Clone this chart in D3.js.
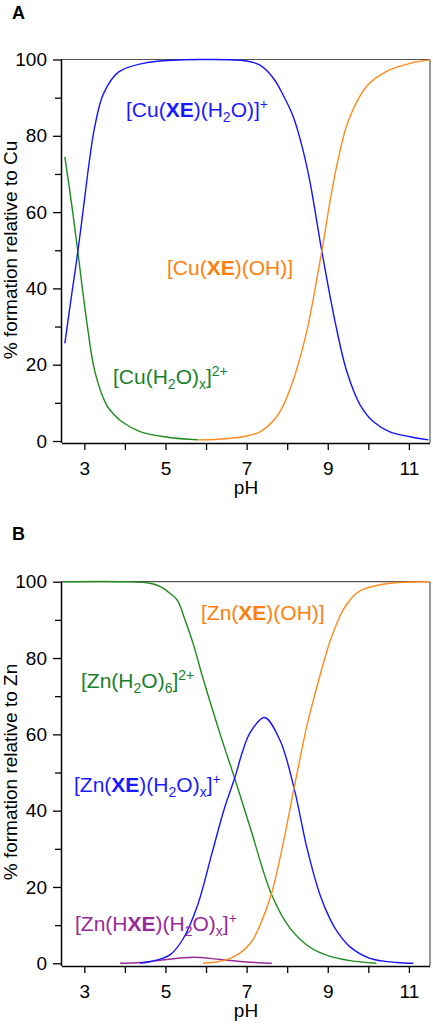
<!DOCTYPE html>
<html><head><meta charset="utf-8">
<script src="https://cdn.jsdelivr.net/npm/d3@7"></script>
<style>body{margin:0;background:#fff}svg{display:block;font-family:Arial,"Liberation Sans",sans-serif}</style>
</head><body><svg id="c" width="433" height="1024"></svg>
<script>
// ---- Data ----
const xTicks = [3,4,5,6,7,8,9,10,11];
const yTicks = [0,10,20,30,40,50,60,70,80,90,100];

// Panel A: Cu
const cuAqPH  = [2.52,2.69,2.84,3.06,3.26,3.55,3.66,3.92,4.39,5.05,5.81];
const cuAqVal = [74.5,61.9,49.6,31.3,18.2,9.4,7.8,5.1,2.4,1.0,0.3];
const cuXePH  = [2.52,2.71,2.84,3.03,3.12,3.25,3.47,3.84,4.45,5.15,6.0,7.0,7.33,7.66,7.90,8.15,8.36,8.56,8.85,9.18,9.47,9.80,10.12,10.53,11.03,11.48];
const cuXeVal = [25.6,40.0,49.6,65.5,73.0,82.0,91.0,96.7,99.0,99.8,100,99.6,98.5,95.1,90.7,85.0,77.5,68.0,50.0,31.3,18.2,9.4,5.1,2.4,1.1,0.3];
const cuOhPH  = [5.81,6.5,7.0,7.33,7.66,7.90,8.15,8.36,8.52,8.85,9.10,9.26,9.51,9.96,10.45,11.03,11.52];
const cuOhVal = [0.3,0.6,1.3,2.4,5.3,9.2,16.0,23.5,30.5,49.6,65.5,74.0,84.0,93.0,96.9,99.0,99.9];

// Panel B: Zn
const znAqPH  = [2.48,4.0,4.62,4.90,5.07,5.30,5.48,5.69,5.93,6.35,6.72,7.09,7.62,8.07,8.56,9.06,9.55,10.2];
const znAqVal = [100,100,99.6,98.6,97.3,95.0,90.0,83.5,74.5,60.0,48.0,35.5,17.9,9.2,4.2,1.8,0.7,0.0];
const znXePH  = [4.37,4.62,5.11,5.44,5.80,6.15,6.45,6.72,6.90,7.09,7.44,7.82,8.17,8.49,8.81,9.06,9.22,9.55,10.04,10.7,11.11];
const znXeVal = [0.0,0.4,2.2,6.5,15.5,29.0,40.5,49.0,55.5,60.5,64.4,58.5,45.9,30.1,17.9,11.5,8.5,4.3,1.3,0.2,0.0];
const znOhPH  = [5.93,6.6,7.09,7.35,7.62,7.91,8.17,8.49,8.81,9.06,9.22,9.38,9.55,9.70,9.87,10.53,11.52];
const znOhVal = [0.0,1.3,5.2,10.5,18.5,31.9,45.9,62.4,75.5,84.5,89.0,92.6,95.2,96.9,98.0,99.6,100];
const znHxePH  = [3.88,4.37,5.03,5.69,6.35,7.0,7.62];
const znHxeVal = [0.0,0.2,1.0,1.6,1.0,0.35,0.0];

// ---- Styles ----
const C = {blue:"#1414ff", orange:"#ff8a1e", green:"#1e8a1e", purple:"#982a98",
           gText:"#1a7f2a", bText:"#1a1aff", oText:"#ff7f0e"};

const svg = d3.select("#c");
const x = d3.scaleLinear().domain([2.45, 11.52]).range([62, 430]);

function panel(cfg){
  const y = d3.scaleLinear().domain([0,100]).range([cfg.y0, cfg.y100]);
  const g = svg.append("g");
  g.append("line").attr("x1",62).attr("x2",430).attr("y1",cfg.y100).attr("y2",cfg.y100).attr("stroke","#555").attr("stroke-width",1.2);
  g.append("line").attr("x1",430).attr("x2",430).attr("y1",cfg.y100).attr("y2",cfg.axisY).attr("stroke","#555").attr("stroke-width",1.2);
  const line = d3.line().x(d=>x(d[0])).y(d=>y(d[1])).curve(d3.curveCatmullRom.alpha(0.5));
  cfg.series.forEach(s=>{
    g.append("path").datum(d3.zip(s.ph, s.val)).attr("d", line)
      .attr("fill","none").attr("stroke", s.color).attr("stroke-width",1.4);
  });
  const xa = g.append("g").attr("transform",`translate(0,${cfg.axisY})`)
    .call(d3.axisBottom(x).tickValues(xTicks).tickSize(7)
      .tickFormat(d=> d%2 ? d : ""));
  xa.select(".domain").attr("d",`M62,0.5H430`).attr("stroke","#000").attr("stroke-width",1.5);
  xa.selectAll("line").attr("stroke","#000").attr("stroke-width",1.3);
  xa.selectAll("text").attr("y",32).attr("dy",0).attr("font-size",19).attr("fill","#000")
    .attr("font-family","Arial, 'Liberation Sans'");
  const ya = g.append("g").attr("transform",`translate(62,0)`)
    .call(d3.axisLeft(y).tickValues(yTicks).tickSize(9).tickPadding(6)
      .tickFormat(d=> d%20===0 ? d : ""));
  ya.select(".domain").attr("d",`M-0.5,${cfg.y100}V${cfg.axisY}`).attr("stroke","#000").attr("stroke-width",1.5);
  ya.selectAll(".tick line").attr("stroke","#000").attr("stroke-width",1.3)
    .attr("x2",d=> d%20===0 ? -9 : -7);
  ya.selectAll("text").attr("font-size",19).attr("fill","#000").attr("font-family","Arial, 'Liberation Sans'");
  g.append("text").attr("x",246).attr("y",cfg.axisY+51).attr("text-anchor","middle")
    .attr("font-size",19).text("pH");
  g.append("text").attr("transform",`translate(17,${cfg.titleY}) rotate(-90)`)
    .attr("text-anchor","middle").attr("font-size",19).text(cfg.yTitle);
  g.append("text").attr("x",12).attr("y",cfg.letterY).attr("font-size",18)
    .attr("font-weight","bold").text(cfg.letter);
  cfg.labels.forEach(l=>{
    const t = g.append("text").attr("x",l.x).attr("y",l.y).attr("font-size",21).attr("fill",l.color);
    let shift = 0;
    l.parts.forEach(p=>{
      const ts = t.append("tspan").text(p.t);
      let target = 0;
      if (p.sub) target = 5; else if (p.sup) target = -8;
      const dy = target - shift; shift = target;
      if (dy) ts.attr("dy", dy);
      if (p.sub || p.sup) ts.attr("font-size",14);
      if (p.b) ts.attr("font-weight","bold");
    });
  });
}

panel({
  y0:441, y100:59.5, axisY:443, titleY:250, letter:"A", letterY:19,
  yTitle:"% formation relative to Cu",
  series:[
    {ph:cuAqPH, val:cuAqVal, color:C.green},
    {ph:cuXePH, val:cuXeVal, color:C.blue},
    {ph:cuOhPH, val:cuOhVal, color:C.orange}
  ],
  labels:[
    {x:126, y:117, color:C.bText, parts:[{t:"[Cu("},{t:"XE",b:1},{t:")(H"},{t:"2",sub:1},{t:"O)]"},{t:"+",sup:1}]},
    {x:167, y:275, color:C.oText, parts:[{t:"[Cu("},{t:"XE",b:1},{t:")(OH)]"}]},
    {x:113, y:384, color:C.gText, parts:[{t:"[Cu(H"},{t:"2",sub:1},{t:"O)"},{t:"x",sub:1},{t:"]"},{t:"2+",sup:1}]}
  ]
});

panel({
  y0:963.3, y100:581.7, axisY:966, titleY:772, letter:"B", letterY:540,
  yTitle:"% formation relative to Zn",
  series:[
    {ph:znHxePH, val:znHxeVal, color:C.purple},
    {ph:znAqPH, val:znAqVal, color:C.green},
    {ph:znXePH, val:znXeVal, color:C.blue},
    {ph:znOhPH, val:znOhVal, color:C.orange}
  ],
  labels:[
    {x:201, y:620, color:C.oText, parts:[{t:"[Zn("},{t:"XE",b:1},{t:")(OH)]"}]},
    {x:81, y:688, color:C.gText, parts:[{t:"[Zn(H"},{t:"2",sub:1},{t:"O)"},{t:"6",sub:1},{t:"]"},{t:"2+",sup:1}]},
    {x:74, y:792, color:C.bText, parts:[{t:"[Zn("},{t:"XE",b:1},{t:")(H"},{t:"2",sub:1},{t:"O)"},{t:"x",sub:1},{t:"]"},{t:"+",sup:1}]},
    {x:75, y:931, color:C.purple, parts:[{t:"[Zn(H"},{t:"XE",b:1},{t:")(H"},{t:"2",sub:1},{t:"O)"},{t:"x",sub:1},{t:"]"},{t:"+",sup:1}]}
  ]
});
</script></body></html>
